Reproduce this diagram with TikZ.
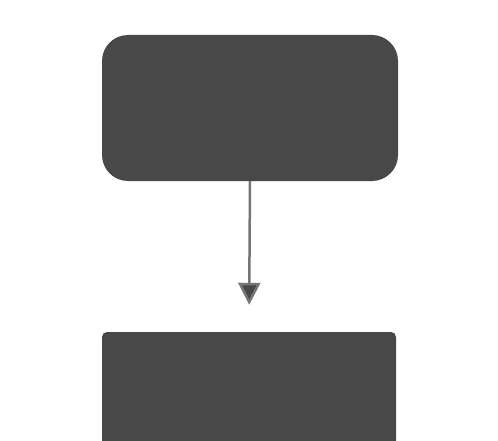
\documentclass[tikz,border=0pt]{standalone}
\usetikzlibrary{arrows.meta}
\definecolor{boxgray}{HTML}{484848}
\begin{document}
\begin{tikzpicture}[x=1pt,y=-1pt,
  topbox/.style={fill=boxgray,draw=none,rounded corners=26pt,minimum width=296pt,minimum height=146pt,inner sep=0pt},
  botbox/.style={fill=boxgray,draw=none,rounded corners=5pt,minimum width=294pt,minimum height=200pt,inner sep=0pt},
  conn/.style={draw=boxgray!75,line width=2.5pt,-{Triangle[length=22pt,width=22pt,fill=boxgray]}}]
\useasboundingbox (0,0) rectangle (498,441);
\clip (0,0) rectangle (498,441);
\node[topbox] (a) at (250,108) {};
\node[botbox] (b) at (249,432) {};
\draw[conn,shorten >=27pt] (a.south) -- (b.north);
\end{tikzpicture}
\end{document}
